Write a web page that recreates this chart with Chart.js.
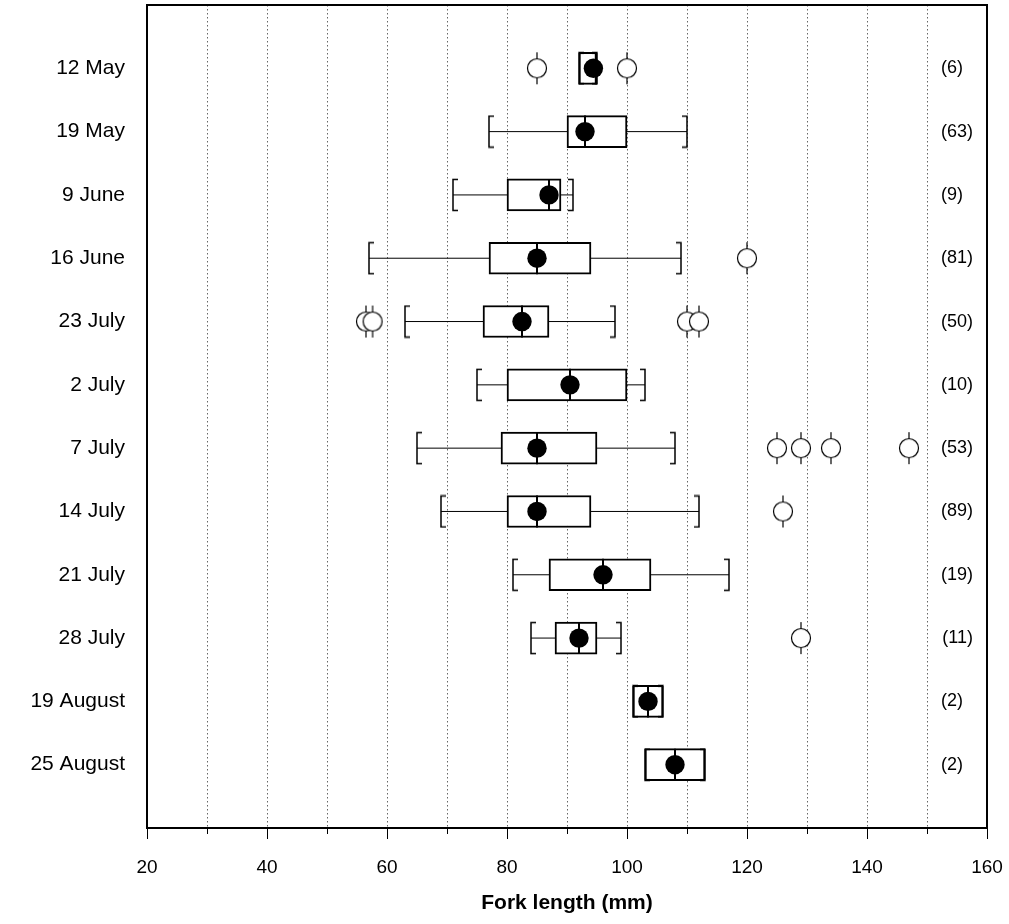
<!DOCTYPE html>
<html lang="en">
<head>
    <meta charset="UTF-8">
    <title>Fork length by date</title>
    <style>
        body { margin: 0; background: #fff; }
        #wrap { width: 1009px; height: 924px; }
    </style>
</head>
<body>
<div id="wrap"><canvas id="myChart" width="1009" height="924"></canvas></div>
<script src="https://cdn.jsdelivr.net/npm/chart.js"></script>
<script>
    // sampling dates (top to bottom) and sample sizes
    const dates = ['12 May', '19 May', '9 June', '16 June', '23 July', '2 July',
                   '7 July', '14 July', '21 July', '28 July', '19 August', '25 August'];
    const counts = [6, 63, 9, 81, 50, 10, 53, 89, 19, 11, 2, 2];

    // box plot values, fork length in mm
    const whiskerLow  = [92, 77, 71, 57, 63, 75, 65, 69, 81, 84, 101, 103];
    const q1          = [92, 90, 80, 77, 76, 80, 79, 80, 87, 88, 101, 103];
    const median      = [94.8, 93, 87, 85, 82.5, 90.5, 85, 85, 96, 92, 103.5, 108];
    const q3          = [95, 100, 89, 94, 87, 100, 95, 94, 104, 95, 106, 113];
    const whiskerHigh = [95, 110, 91, 109, 98, 103, 108, 112, 117, 99, 106, 113];
    const mean        = [94.4, 93, 87, 85, 82.5, 90.5, 85, 85, 96, 92, 103.5, 108];
    const outliers = [[85, 100], [], [], [120], [56.5, 57.6, 110, 112], [],
                      [125, 129, 134, 147], [126], [], [129], [], []];

    const xTicks = [20, 40, 60, 80, 100, 120, 140, 160];

    Chart.defaults.font.family = '"Liberation Sans", Arial, sans-serif';
    Chart.defaults.color = '#000';

    // small marker images
    function bracket(dir) {
        const c = document.createElement('canvas');
        c.width = 12; c.height = 34;
        const g = c.getContext('2d');
        g.strokeStyle = '#000';
        g.lineWidth = 1.5;
        g.beginPath();
        g.moveTo(6 + dir * 5, 1.5);
        g.lineTo(6, 1.5);
        g.lineTo(6, 32.5);
        g.lineTo(6 + dir * 5, 32.5);
        g.stroke();
        return c;
    }
    function openCircle() {
        const c = document.createElement('canvas');
        c.width = 24; c.height = 34;
        const g = c.getContext('2d');
        g.strokeStyle = '#000';
        g.lineWidth = 1.2;
        g.beginPath();
        g.moveTo(12, 1); g.lineTo(12, 33);
        g.stroke();
        g.beginPath();
        g.arc(12, 17, 9.5, 0, Math.PI * 2);
        g.fillStyle = '#fff';
        g.fill();
        g.stroke();
        return c;
    }

    const row = i => i + 1;

    const whiskerSets = dates.map((d, i) => ({
        type: 'scatter',
        showLine: true,
        data: [{x: whiskerLow[i], y: row(i)}, {x: whiskerHigh[i], y: row(i)}],
        borderColor: '#000',
        borderWidth: 1,
        pointRadius: 0,
        order: 6
    }));

    const datasets = [
        ...whiskerSets,
        {
            type: 'bar',
            data: dates.map((d, i) => ({x: [q1[i], q3[i]], y: row(i)})),
            backgroundColor: '#fff',
            borderColor: '#000',
            borderWidth: 2,
            borderSkipped: false,
            barThickness: 32,
            order: 5
        },
        {
            type: 'scatter',
            data: dates.map((d, i) => ({x: median[i], y: row(i)})),
            pointStyle: 'line',
            rotation: 90,
            pointRadius: 16,
            borderColor: '#000',
            borderWidth: 2,
            order: 4
        },
        {
            type: 'scatter',
            data: dates.map((d, i) => ({x: whiskerLow[i], y: row(i)})),
            pointStyle: bracket(1),
            pointRadius: 10,
            order: 3
        },
        {
            type: 'scatter',
            data: dates.map((d, i) => ({x: whiskerHigh[i], y: row(i)})),
            pointStyle: bracket(-1),
            pointRadius: 10,
            order: 3
        },
        {
            type: 'scatter',
            data: dates.map((d, i) => ({x: mean[i], y: row(i)})),
            pointStyle: 'circle',
            pointRadius: 9.7,
            backgroundColor: '#000',
            borderColor: '#000',
            borderWidth: 0,
            order: 2
        },
        {
            type: 'scatter',
            data: outliers.flatMap((list, i) => list.map(v => ({x: v, y: row(i)}))),
            pointStyle: openCircle(),
            pointRadius: 10,
            order: 1
        }
    ];

    // keep the frame where the original has it
    const noPad = s => {
        s.paddingTop = 0; s.paddingBottom = 0;
        s.paddingLeft = 0; s.paddingRight = 0;
    };

    const ctx = document.querySelector('#myChart').getContext('2d');
    const myChart = new Chart(ctx, {
        type: 'bar',
        data: { datasets: datasets },
        options: {
            indexAxis: 'y',
            responsive: false,
            animation: false,
            events: [],
            layout: { autoPadding: false, padding: { top: 5, right: 22, bottom: 0, left: 0 } },
            plugins: { legend: { display: false }, tooltip: { enabled: false } },
            scales: {
                x: {
                    type: 'linear',
                    position: 'bottom',
                    min: 20, max: 160,
                    afterFit: s => { s.height = 96; noPad(s); },
                    ticks: {
                        stepSize: 10,
                        autoSkip: false,
                        maxRotation: 0,
                        padding: 17,
                        font: { size: 19 },
                        callback: v => xTicks.includes(v) ? v : ''
                    },
                    grid: {
                        color: '#666',
                        lineWidth: 1,
                        tickLength: 11,
                        tickColor: '#000',
                        tickBorderDash: c => xTicks.includes(c.tick.value) ? [] : [5, 100]
                    },
                    border: { color: '#000', width: 2, dash: [1.5, 2.5] },
                    title: {
                        display: true,
                        text: 'Fork length (mm)',
                        font: { size: 21, weight: 'bold' },
                        padding: { top: 0, bottom: 8 }
                    }
                },
                x2: {
                    type: 'linear',
                    position: 'top',
                    min: 20, max: 160,
                    afterFit: s => { s.height = 0; noPad(s); },
                    ticks: { display: false },
                    grid: { drawOnChartArea: false, drawTicks: false },
                    border: { color: '#000', width: 2 }
                },
                y: {
                    type: 'linear',
                    position: 'left',
                    min: 0, max: 13,
                    reverse: true,
                    offset: false,
                    afterFit: s => { s.width = 147; noPad(s); },
                    ticks: {
                        stepSize: 1,
                        autoSkip: false,
                        padding: 22,
                        font: { size: 21 },
                        callback: v => dates[v - 1] || ''
                    },
                    grid: { drawOnChartArea: false, drawTicks: false, offset: false },
                    border: { color: '#000', width: 2 }
                },
                y2: {
                    type: 'linear',
                    position: 'right',
                    min: 0, max: 13,
                    reverse: true,
                    offset: false,
                    afterFit: s => { s.width = 0; noPad(s); },
                    ticks: {
                        stepSize: 1,
                        autoSkip: false,
                        mirror: true,
                        padding: -14,
                        font: { size: 18 },
                        callback: v => counts[v - 1] === undefined ? '' :
                            '(' + counts[v - 1] + ')' + (counts[v - 1] < 10 ? '\u2007' : '')
                    },
                    grid: { drawOnChartArea: false, drawTicks: false, offset: false },
                    border: { color: '#000', width: 2 }
                }
            }
        }
    });
</script>
</body>
</html>
